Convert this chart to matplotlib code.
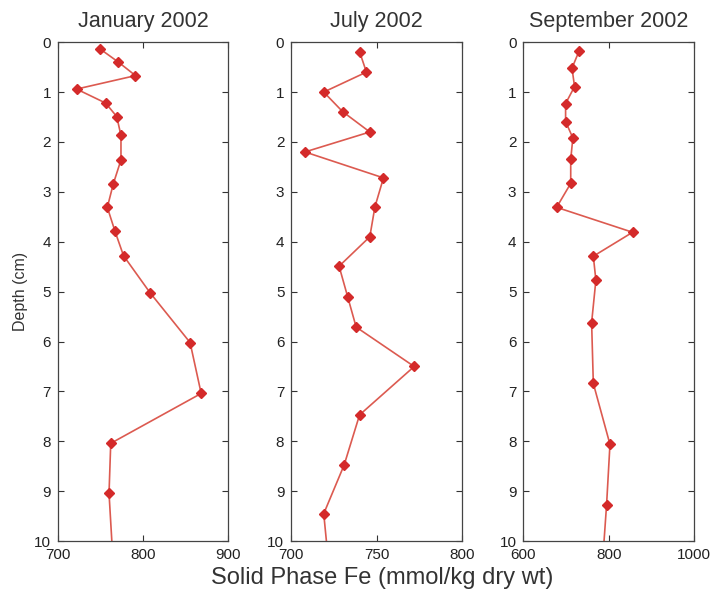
import numpy as np
import matplotlib
matplotlib.use('Agg')
import matplotlib.pyplot as plt

plt.rcParams['font.family'] = ['Liberation Sans', 'DejaVu Sans']

# depth (cm) and solid phase Fe (mmol/kg dry wt)
jan_depth = [0.13, 0.40, 0.67, 0.94, 1.22, 1.49, 1.87, 2.36, 2.84, 3.31, 3.79, 4.28, 5.02, 6.02, 7.04, 8.04, 9.04, 10.5]
jan_fe = [749, 771, 791, 722, 756, 769, 774, 774, 765, 758, 767, 777, 808, 855, 868, 762, 760, 765]

jul_depth = [0.19, 0.60, 1.00, 1.39, 1.80, 2.20, 2.72, 3.30, 3.90, 4.49, 5.10, 5.71, 6.50, 7.47, 8.47, 9.45, 10.5]
jul_fe = [740, 744, 719, 730, 746, 708, 754, 749, 746, 728, 733, 738, 772, 740, 731, 719, 722]

sep_depth = [0.17, 0.52, 0.89, 1.23, 1.59, 1.92, 2.35, 2.83, 3.31, 3.81, 4.29, 4.77, 5.62, 6.84, 8.06, 9.28, 10.5]
sep_fe = [731, 714, 720, 699, 699, 716, 711, 711, 678, 856, 764, 770, 760, 764, 803, 795, 785]

titles = ['January 2002', 'July 2002', 'September 2002']
xlims = [(700, 900), (700, 800), (600, 1000)]
xticks = [[700, 800, 900], [700, 750, 800], [600, 800, 1000]]
yticks = list(range(0, 11))

fig = plt.figure(figsize=(7.14, 5.94), dpi=100)
lefts = [0.081, 0.408, 0.733]
series = [(jan_fe, jan_depth), (jul_fe, jul_depth), (sep_fe, sep_depth)]

for i in range(3):
    ax = fig.add_axes([lefts[i], 0.089, 0.239, 0.840])
    fe, d = series[i]
    ax.plot(fe, d, color='#dc5a50', lw=1.2, marker='D', ms=5,
            mfc='#d42a2a', mec='#d42a2a')
    ax.set_xlim(xlims[i])
    ax.set_ylim(10, 0)
    ax.set_xticks(xticks[i])
    ax.set_yticks(yticks)
    ax.tick_params(direction='in', top=True, right=True, labelsize=11,
                   length=4, width=0.8, colors='#333333', labelcolor='#222222')
    ax.tick_params(axis='x', pad=5)
    ax.tick_params(axis='y', pad=5)
    for s in ax.spines.values():
        s.set_color('#444444')
        s.set_linewidth(0.9)
    ax.set_title(titles[i], fontsize=15.5, color='#333333', pad=11)
    if i == 0:
        ax.set_ylabel('Depth (cm)', fontsize=11.5, color='#333333', labelpad=4)

fig.text(0.535, 0.027, 'Solid Phase Fe (mmol/kg dry wt)', ha='center', va='center',
         fontsize=17, color='#333333')

fig.savefig('out.png', dpi=100, facecolor='white')
